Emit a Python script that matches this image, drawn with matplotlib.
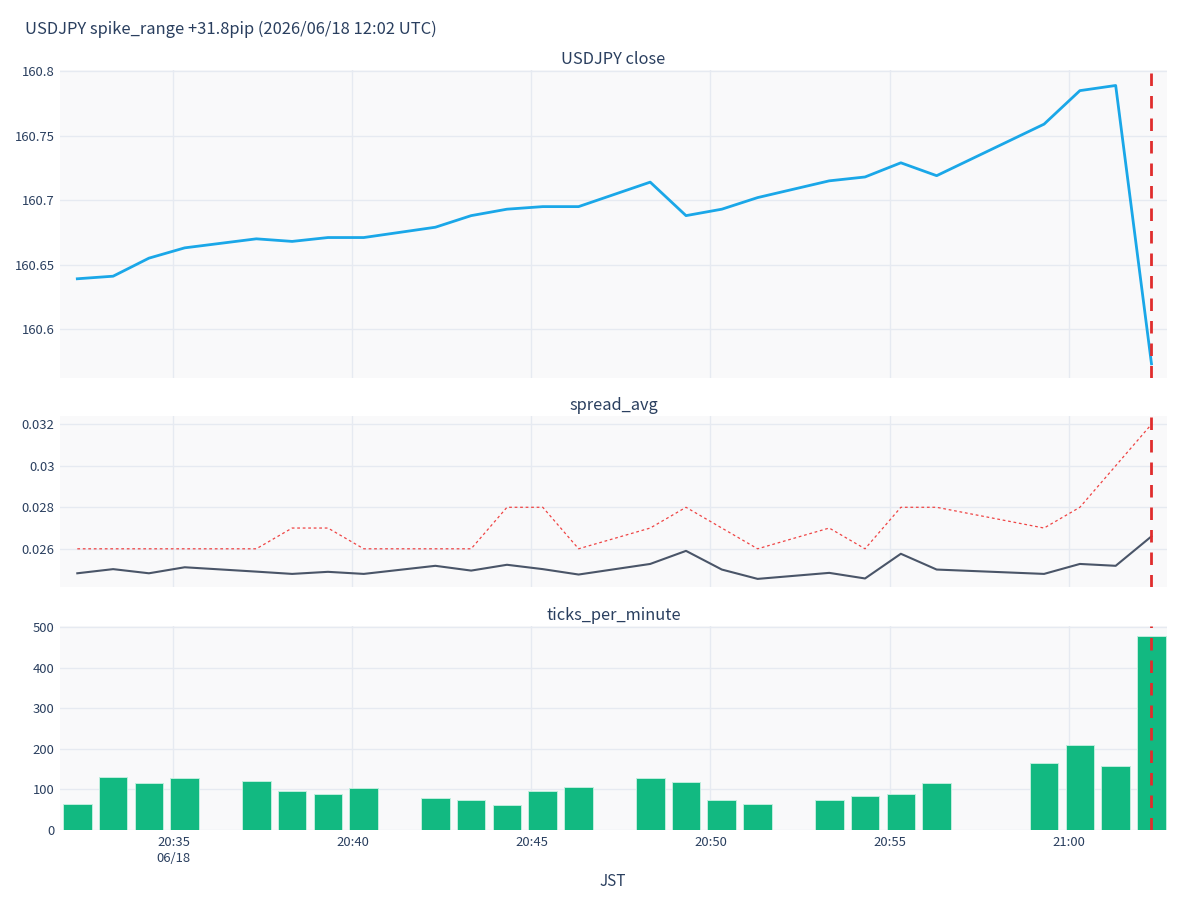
import numpy as np
import pandas as pd
import matplotlib
matplotlib.use("Agg")
import matplotlib.pyplot as plt
import matplotlib.dates as mdates

plt.rcParams['font.family'] = ['Noto Sans CJK JP', 'DejaVu Sans']

# data (JST, one point per minute bucket)
times = ["20:32:19", "20:33:19", "20:34:19", "20:35:19", "20:37:19", "20:38:19",
         "20:39:19", "20:40:19", "20:42:19", "20:43:19", "20:44:19", "20:45:19",
         "20:46:19", "20:48:19", "20:49:19", "20:50:19", "20:51:19", "20:53:19",
         "20:54:19", "20:55:19", "20:56:19", "20:59:19", "21:00:19", "21:01:19",
         "21:02:19"]
close = [160.639, 160.641, 160.655, 160.663, 160.670, 160.668, 160.671, 160.671,
         160.679, 160.688, 160.693, 160.695, 160.695, 160.714, 160.688, 160.693,
         160.702, 160.715, 160.718, 160.729, 160.719, 160.759, 160.785, 160.789,
         160.573]
spread_avg = [0.02482, 0.02502, 0.02482, 0.02511, 0.02490, 0.02479, 0.02489, 0.02479,
              0.02518, 0.02495, 0.02523, 0.02502, 0.02476, 0.02527, 0.02590, 0.02500,
              0.02455, 0.02484, 0.02457, 0.02576, 0.02500, 0.02479, 0.02527, 0.02518,
              0.02660]
spread_max = [0.026, 0.026, 0.026, 0.026, 0.026, 0.027, 0.027, 0.026, 0.026, 0.026,
              0.028, 0.028, 0.026, 0.027, 0.028, 0.027, 0.026, 0.027, 0.026, 0.028,
              0.028, 0.027, 0.028, 0.030, 0.032]
ticks = [63, 130, 116, 129, 121, 97, 88, 103, 78, 74, 61, 97, 105, 127, 119, 73,
         63, 73, 83, 89, 115, 164, 209, 157, 478]
event_time = "21:02:19"
day = "2026-06-18"

x = pd.to_datetime([day + " " + t for t in times])
ev = pd.to_datetime(day + " " + event_time)

txt = '#2a3f5f'
bg = '#f9f9fa'
grid = '#e6eaf1'

fig = plt.figure(figsize=(12, 9), dpi=100)
ax1 = fig.add_axes([0.05, 0.58, 0.9225, 0.3422])
ax2 = fig.add_axes([0.05, 0.3478, 0.9225, 0.19])
ax3 = fig.add_axes([0.05, 0.0778, 0.9225, 0.2267])

xmin = pd.to_datetime(day + " 20:31:50")
xmax = pd.to_datetime(day + " 21:02:45")
xt = pd.to_datetime([day + " " + t for t in ["20:35", "20:40", "20:45", "20:50", "20:55", "21:00"]])
xtl = ["20:35\n06/18", "20:40", "20:45", "20:50", "20:55", "21:00"]

for ax in (ax1, ax2, ax3):
    ax.set_facecolor(bg)
    for s in ax.spines.values():
        s.set_visible(False)
    ax.set_xlim(xmin, xmax)
    ax.set_xticks(xt)
    ax.grid(True, color=grid, linewidth=1)
    ax.set_axisbelow(True)
    ax.tick_params(length=0, labelsize=9.4, colors=txt, pad=4)

ax1.set_xticklabels([])
ax2.set_xticklabels([])
ax3.set_xticklabels(xtl, linespacing=1.3)

# close
ax1.plot(x, close, color='#1aa7e8', linewidth=2)
ax1.set_ylim(160.562, 160.801)
ax1.set_yticks([160.6, 160.65, 160.7, 160.75, 160.8])
ax1.set_yticklabels(["160.6", "160.65", "160.7", "160.75", "160.8"])
ax1.set_title("USDJPY close", fontsize=11.8, color=txt, pad=4)

# spread
ax2.plot(x, spread_max, color='#ef4444', linewidth=0.9, linestyle=(0, (2.2, 2.2)))
ax2.plot(x, spread_avg, color='#4a5568', linewidth=1.5)
ax2.set_ylim(0.02416, 0.03240)
ax2.set_yticks([0.026, 0.028, 0.03, 0.032])
ax2.set_yticklabels(["0.026", "0.028", "0.03", "0.032"])
ax2.set_title("spread_avg", fontsize=11.8, color=txt, pad=4)

# ticks per minute
ax3.bar(x, ticks, width=0.8 / 1440, color='#12b981', edgecolor='#bfeedd', linewidth=0.7)
ax3.set_ylim(0, 503)
ax3.set_yticks([0, 100, 200, 300, 400, 500])
ax3.set_title("ticks_per_minute", fontsize=11.8, color=txt, pad=4)

for ax in (ax1, ax2, ax3):
    ax.axvline(ev, color='#e02d2d', linewidth=2, linestyle=(0, (4.5, 3.6)))

fig.text(0.021, 0.967, "USDJPY spike_range +31.8pip (2026/06/18 12:02 UTC)",
         fontsize=11.9, color=txt, ha='left', va='center')
fig.text(0.511, 0.02, "JST", fontsize=11, color=txt, ha='center', va='center')

fig.savefig("out.png", dpi=100)
